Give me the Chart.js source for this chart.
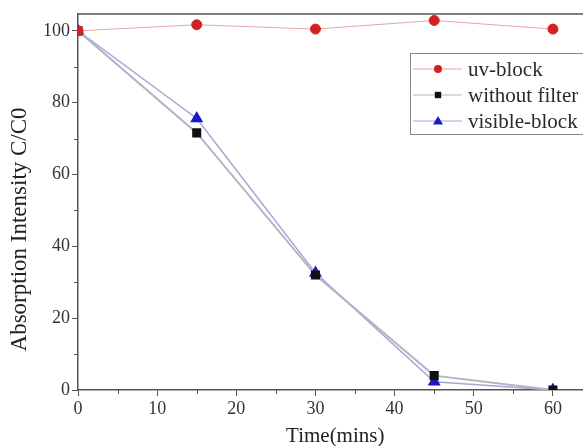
<!DOCTYPE html>
<html>
<head>
<meta charset="utf-8">
<script src="https://cdn.jsdelivr.net/npm/chart.js@4.4.0/dist/chart.umd.min.js"></script>
<style>
  html, body { margin: 0; padding: 0; background: #fff; overflow: hidden; }
  #wrap { width: 600px; height: 446px; }
</style>
</head>
<body>
<div id="wrap"><canvas id="chart" width="600" height="446"></canvas></div>
<script>
// time points (mins)
const times = [0, 15, 30, 45, 60];
// C/C0 values
const uvBlock = [100, 101.7, 100.5, 102.9, 100.5];
const withoutFilter = [100, 71.6, 32, 4, 0];
const visibleBlock = [100, 75.6, 32.6, 2.3, 0];

const seriesNames = ['uv-block', 'without filter', 'visible-block'];
const yTickValues = [0, 20, 40, 60, 80, 100];
const yTitle = 'Absorption Intensity C/C0';
const serif = "'Liberation Serif', 'DejaVu Serif', serif";

function toPoints(vals) {
  return times.map((t, i) => ({ x: t, y: vals[i] }));
}

function drawMarker(ctx, style, r, x, y) {
  if (style === 'circle') {
    ctx.arc(x, y, r, 0, Math.PI * 2);
  } else if (style === 'rect') {
    ctx.rect(x - r * 0.8, y - r * 0.8, r * 1.6, r * 1.6);
  } else {
    ctx.moveTo(x, y - r);
    ctx.lineTo(x + r, y + r * 0.7);
    ctx.lineTo(x - r, y + r * 0.7);
    ctx.closePath();
  }
}

// minor ticks, top frame line and the y title (sits a bit low in the original)
const framePlugin = {
  id: 'frame',
  afterDraw(chart) {
    const ctx = chart.ctx;
    const area = chart.chartArea;
    const xs = chart.scales.x, ys = chart.scales.y;
    ctx.save();
    ctx.strokeStyle = '#555';
    ctx.lineWidth = 1.5;
    ctx.beginPath();
    ctx.moveTo(area.left, area.top);
    ctx.lineTo(area.right, area.top);
    ctx.stroke();
    ctx.lineWidth = 1;
    for (let v = 10; v <= 100; v += 20) {
      const py = Math.round(ys.getPixelForValue(v)) + 0.5;
      ctx.beginPath();
      ctx.moveTo(area.left - 4, py);
      ctx.lineTo(area.left, py);
      ctx.stroke();
    }
    for (let v = 5; v <= 65; v += 10) {
      const px = Math.round(xs.getPixelForValue(v)) + 0.5;
      ctx.beginPath();
      ctx.moveTo(px, area.bottom);
      ctx.lineTo(px, area.bottom + 4);
      ctx.stroke();
    }
    ctx.translate(20, ys.getPixelForValue(50) + 19);
    ctx.rotate(-Math.PI / 2);
    ctx.fillStyle = '#222';
    ctx.font = '23px ' + serif;
    ctx.textAlign = 'center';
    ctx.textBaseline = 'middle';
    ctx.fillText(yTitle, 0, 0);
    ctx.restore();
  }
};

// legend with line-marker-line samples, like the original plot
const legendPlugin = {
  id: 'boxLegend',
  afterDraw(chart) {
    const ctx = chart.ctx;
    const left = 410, top = 53, right = 598, bottom = 134;
    ctx.save();
    ctx.strokeStyle = '#888';
    ctx.lineWidth = 1;
    ctx.strokeRect(left + 0.5, top + 0.5, right - left, bottom - top);
    const rows = [69, 95, 121];
    chart.data.datasets.forEach((ds, i) => {
      const y = rows[i];
      ctx.strokeStyle = ds.borderColor;
      ctx.lineWidth = 1;
      ctx.beginPath();
      ctx.moveTo(left + 3, y);
      ctx.lineTo(left + 52, y);
      ctx.stroke();
      ctx.fillStyle = ds.pointBackgroundColor;
      ctx.beginPath();
      drawMarker(ctx, ds.pointStyle, ds.pointRadius - 1, left + 28, y);
      ctx.fill();
      ctx.fillStyle = '#2a2a2a';
      ctx.font = '21px ' + serif;
      ctx.textBaseline = 'middle';
      ctx.fillText(ds.label, left + 58, y + 1);
    });
    ctx.restore();
  }
};

new Chart(document.getElementById('chart'), {
  type: 'line',
  data: {
    datasets: [
      {
        label: seriesNames[0],
        data: toPoints(uvBlock),
        borderColor: '#e9a3a3',
        borderWidth: 1,
        pointStyle: 'circle',
        pointRadius: 5,
        pointBackgroundColor: '#d42020',
        pointBorderColor: '#d42020'
      },
      {
        label: seriesNames[1],
        data: toPoints(withoutFilter),
        borderColor: '#b4b4c4',
        borderWidth: 2,
        pointStyle: 'rect',
        pointRadius: 5,
        pointBackgroundColor: '#111',
        pointBorderColor: '#111'
      },
      {
        label: seriesNames[2],
        data: toPoints(visibleBlock),
        borderColor: '#a6a6d8',
        borderWidth: 1.5,
        pointStyle: 'triangle',
        pointRadius: 6,
        pointBackgroundColor: '#1a1acc',
        pointBorderColor: '#1a1acc'
      }
    ]
  },
  options: {
    responsive: false,
    animation: false,
    layout: { padding: { top: 14, right: 7, left: 0, bottom: 0 } },
    plugins: {
      legend: { display: false },
      tooltip: { enabled: false }
    },
    scales: {
      x: {
        type: 'linear',
        min: 0,
        max: 65,
        afterFit(scale) { scale.height = 56; },
        grid: { drawOnChartArea: false, tickLength: 6, color: '#555' },
        border: { color: '#555', width: 1.5 },
        ticks: {
          stepSize: 10,
          color: '#333',
          padding: 2,
          font: { family: serif, size: 18 },
          callback: v => (v <= 60 ? v : '')
        },
        title: {
          display: true,
          text: 'Time(mins)',
          color: '#222',
          font: { family: serif, size: 21 },
          padding: { top: 0, bottom: -3 }
        }
      },
      y: {
        min: 0,
        max: 104.7,
        afterFit(scale) { scale.width = 78; },
        grid: { drawOnChartArea: false, tickLength: 6, color: '#555' },
        border: { color: '#555', width: 1.5 },
        afterBuildTicks(scale) {
          scale.ticks = yTickValues.map(v => ({ value: v }));
        },
        ticks: {
          color: '#333',
          padding: 2,
          font: { family: serif, size: 18 }
        }
      }
    }
  },
  plugins: [framePlugin, legendPlugin]
});
</script>
</body>
</html>
